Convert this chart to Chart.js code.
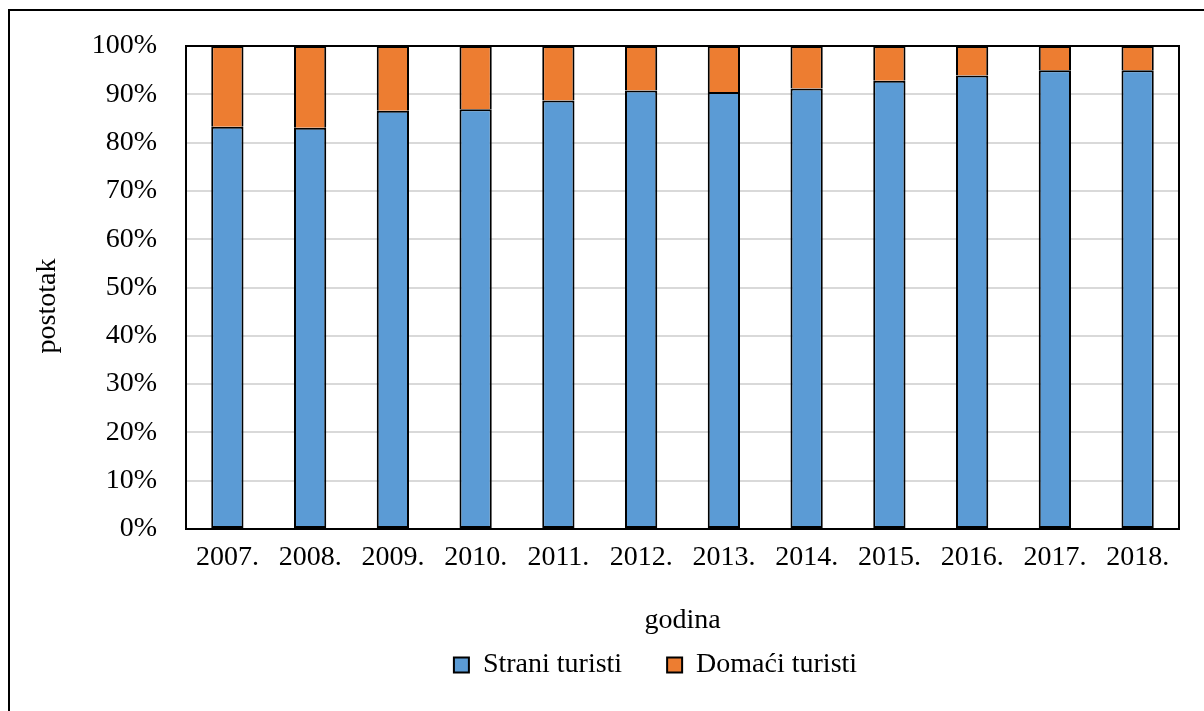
<!DOCTYPE html>
<html>
<head>
<meta charset="utf-8">
<script src="https://cdn.jsdelivr.net/npm/chart.js@4/dist/chart.umd.min.js"></script>
<style>
html,body{margin:0;padding:0;background:#fff;overflow:hidden;}
#wrap{position:relative;width:1204px;height:711px;}
#frame{position:absolute;left:8px;top:9px;width:1300px;height:800px;border-left:2px solid #000;border-top:2px solid #000;pointer-events:none;}
</style>
</head>
<body>
<div id="wrap">
<canvas id="chart" width="1204" height="711"></canvas>
<div id="frame"></div>
</div>
<script>
// values (%)
const years = ["2007.","2008.","2009.","2010.","2011.","2012.","2013.","2014.","2015.","2016.","2017.","2018."];
const strani = [83.3, 83.1, 86.6, 86.9, 88.7, 90.8, 90.5, 91.2, 92.8, 93.9, 95.0, 95.0];
const domaci = [16.7, 16.9, 13.4, 13.1, 11.3, 9.2, 9.5, 8.8, 7.2, 6.1, 5.0, 5.0];
const yTitle = "postotak";
const xTitle = "godina";

const FONT = "'Liberation Serif', 'Times New Roman', serif";
Chart.defaults.font.family = FONT;
Chart.defaults.color = "#000";

// frame around plot area + y title placed like the original (a bit below center)
const extras = {
  id:"extras",
  afterLayout(chart){
    // legend in the original sits right of center
    chart.legend.left += 50;
    chart.legend.right += 50;
  },
  afterDraw(chart){
    const a = chart.chartArea, c = chart.ctx;
    c.save();
    c.strokeStyle = "#000";
    c.lineWidth = 2;
    c.strokeRect(a.left, a.top, a.right - a.left, a.bottom - a.top);
    c.translate(48, 306);
    c.rotate(-Math.PI/2);
    c.font = "28px " + FONT;
    c.fillStyle = "#000";
    c.textAlign = "center";
    c.textBaseline = "middle";
    c.fillText(yTitle, 0, 0);
    c.restore();
  }
};

new Chart(document.getElementById("chart"),{
  type:"bar",
  data:{
    labels:years,
    datasets:[
      {label:"Strani turisti",data:strani,backgroundColor:"#5B9BD5",borderColor:"#000",borderWidth:2,borderSkipped:false},
      {label:"Domaći turisti",data:domaci,backgroundColor:"#ED7D31",borderColor:"#000",borderWidth:2,borderSkipped:"start"}
    ]
  },
  options:{
    responsive:false,
    animation:false,
    layout:{padding:{top:46,right:25,left:32,bottom:22}},
    datasets:{bar:{barPercentage:0.39,categoryPercentage:1}},
    plugins:{
      tooltip:{enabled:false},
      legend:{
        position:"bottom",
        labels:{font:{size:28},boxWidth:15,boxHeight:15,padding:45,color:"#000"}
      }
    },
    scales:{
      x:{
        stacked:true,
        grid:{display:false,drawTicks:false},
        border:{display:false},
        ticks:{font:{size:28},padding:12,maxRotation:0},
        title:{display:true,text:xTitle,font:{size:28},padding:{top:0,bottom:-31}},
        afterFit(s){ s.height = 77; }
      },
      y:{
        stacked:true,
        min:0,max:100,
        grid:{color:"#d9d9d9",lineWidth:2,drawTicks:false},
        border:{display:false},
        ticks:{stepSize:10,font:{size:28},padding:29,callback:v=>v+"%"},
        afterFit(s){ s.width = 154; }
      }
    }
  },
  plugins:[extras]
});
</script>
</body>
</html>
